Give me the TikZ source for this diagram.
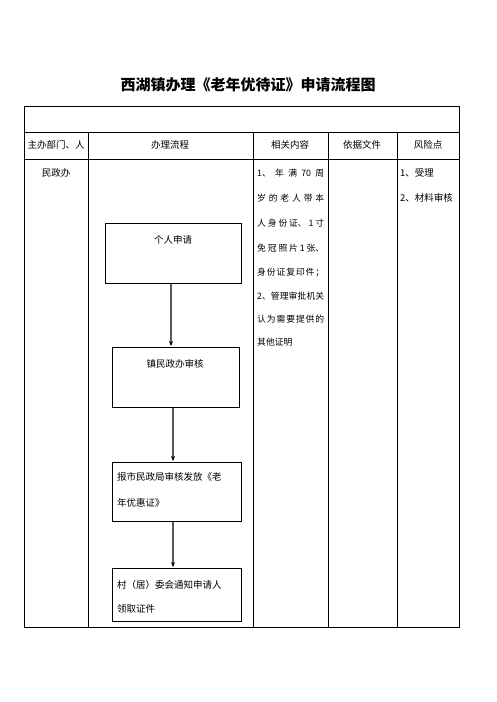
\documentclass[tikz,border=0pt]{standalone}
\usepackage{fontspec}
\setmainfont{Noto Sans CJK SC}
\usetikzlibrary{arrows.meta}
\newcommand{\jl}[1]{\makebox[67pt][s]{#1}}
\begin{document}
\begin{tikzpicture}[x=1pt,y=-1pt,
  txt/.style={inner sep=0pt,font=\fontsize{9.5}{11}\selectfont},
  ltxt/.style={txt,anchor=west},
  ctxt/.style={ltxt,font=\fontsize{8.8}{10}\selectfont},
  flowbox/.style={draw,line width=0.8pt},
  grid/.style={draw,line width=0.9pt},
  flowarrow/.style={draw=black!65,line width=1.1pt,-{Stealth[length=5pt,width=4pt,color=black]}}]
\useasboundingbox (0,0) rectangle (496,702);
\node[inner sep=0pt,font=\fontsize{15}{17}\selectfont\bfseries] (title) at (248,85) {西湖镇办理《老年优待证》申请流程图};
% table
\draw[grid] (24,106) rectangle (459,627);
\draw[grid] (24,132) -- (459,132);
\draw[grid] (24,159) -- (459,159);
\draw[grid] (88,132) -- (88,627);
\draw[grid] (253,132) -- (253,627);
\draw[grid] (328,132) -- (328,627);
\draw[grid] (397,132) -- (397,627);
% headers
\node[txt] (h1) at (56,145) {主办部门、人};
\node[txt] (h2) at (170,145) {办理流程};
\node[txt] (h3) at (290,145) {相关内容};
\node[txt] (h4) at (362,145) {依据文件};
\node[txt] (h5) at (428,145) {风险点};
% column 1
\node[txt] (dept) at (56,173) {民政办};
% column 3
\node[ctxt] (c1) at (257,173) {\jl{1、\hfill 年\hfill 满\hfill 70\hfill 周}};
\node[ctxt] (c2) at (257,198) {\jl{岁\hfill 的\hfill 老\hfill 人\hfill 带\hfill 本}};
\node[ctxt] (c3) at (257,223) {\jl{人\hfill 身\hfill 份\hfill 证、\hfill 1\hfill 寸}};
\node[ctxt] (c4) at (257,248) {\jl{免\hfill 冠\hfill 照\hfill 片\hfill 1\hfill 张、}};
\node[ctxt] (c5) at (257,272) {\jl{身\hfill 份\hfill 证\hfill 复\hfill 印\hfill 件\hfill ；}};
\node[ctxt] (c6) at (257,296) {\jl{2、\hfill 管\hfill 理\hfill 审\hfill 批\hfill 机\hfill 关}};
\node[ctxt] (c7) at (257,319) {\jl{认\hfill 为\hfill 需\hfill 要\hfill 提\hfill 供\hfill 的}};
\node[ctxt] (c8) at (257,342) {其他证明};
% column 5
\node[ltxt] (r1) at (400,173) {1、受理};
\node[ltxt] (r2) at (400,198) {2、材料审核};
% flow boxes
\path[flowbox] (105,223) rectangle (241,283);
\coordinate (b1t) at (173,223); \coordinate (b1b) at (171,284);
\node[txt] (t1) at (173,240) {个人申请};
\path[flowbox] (112,347) rectangle (239,407);
\coordinate (b2t) at (171,346); \coordinate (b2b) at (173,408);
\node[txt] (t2) at (175,364) {镇民政办审核};
\path[flowbox] (112,462) rectangle (241,521);
\coordinate (b3t) at (173,461); \coordinate (b3b) at (173,522);
\node[ltxt] (t3a) at (117,477) {报市民政局审核发放《老};
\node[ltxt] (t3b) at (117,503) {年优惠证》};
\path[flowbox] (112,568) rectangle (241,621);
\coordinate (b4t) at (173,567);
\node[ltxt] (t4a) at (117,585) {村（居）委会通知申请人};
\node[ltxt] (t4b) at (117,609) {领取证件};
% arrows
\draw[flowarrow] (b1b) -- (b2t);
\draw[flowarrow] (b2b) -- (b3t);
\draw[flowarrow] (b3b) -- (b4t);
\end{tikzpicture}
\end{document}
